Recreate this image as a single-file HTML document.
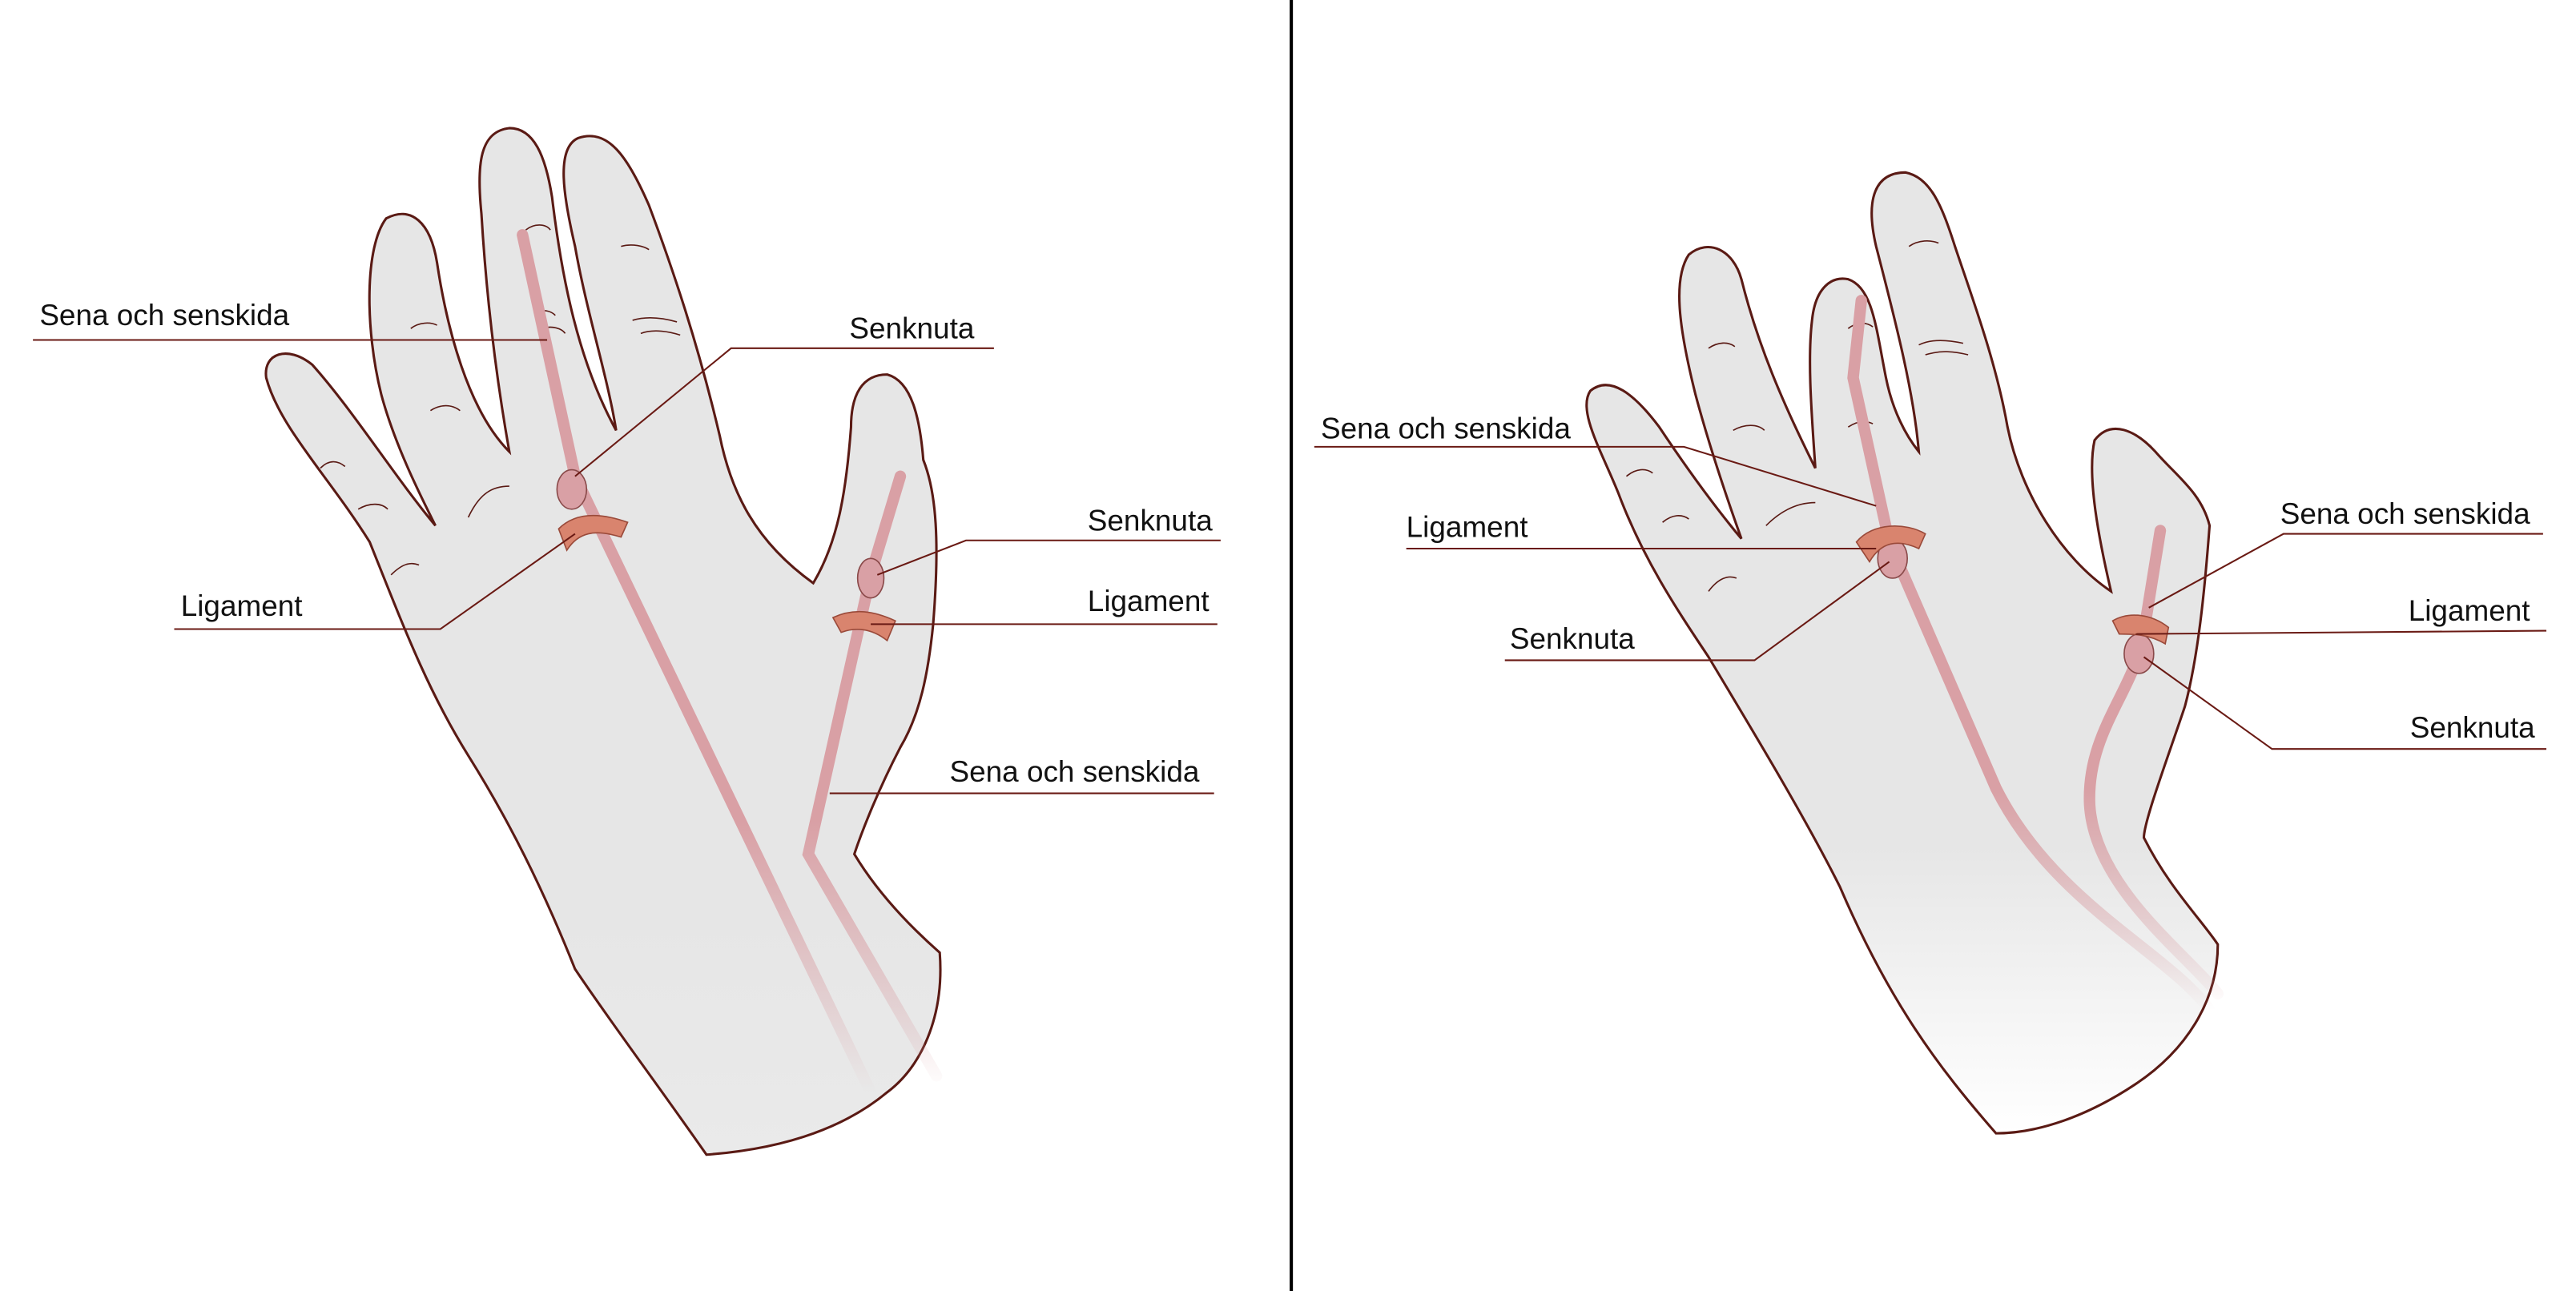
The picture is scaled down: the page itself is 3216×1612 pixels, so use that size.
<!DOCTYPE html>
<html><head><meta charset="utf-8"><style>
html,body{margin:0;padding:0;background:#fff}
svg{display:block}
text{font-family:"Liberation Sans",sans-serif;font-size:18px;fill:#111}
</style></head><body>
<svg width="3216" height="1612" viewBox="0 0 1568 786" xmlns="http://www.w3.org/2000/svg">
<defs>
<linearGradient id="fadeL" x1="0" y1="0" x2="0" y2="1">
<stop offset="0.75" stop-color="#e6e6e6"/><stop offset="1" stop-color="#e6e6e6" stop-opacity="0.85"/></linearGradient>
<linearGradient id="fadeR" x1="0" y1="0" x2="0" y2="1">
<stop offset="0.7" stop-color="#e6e6e6"/><stop offset="1" stop-color="#ffffff"/></linearGradient>
<linearGradient id="tL" gradientUnits="userSpaceOnUse" x1="0" y1="500" x2="0" y2="665">
<stop offset="0" stop-color="#d9a0a5"/><stop offset="1" stop-color="#d9a0a5" stop-opacity="0"/></linearGradient>
<linearGradient id="tR" gradientUnits="userSpaceOnUse" x1="0" y1="480" x2="0" y2="615">
<stop offset="0" stop-color="#d9a0a5"/><stop offset="1" stop-color="#d9a0a5" stop-opacity="0"/></linearGradient>
</defs>
<rect width="1568" height="786" fill="#fff"/>
<line x1="786" y1="0" x2="786" y2="786" stroke="#000" stroke-width="2"/>

<!-- LEFT HAND -->
<path d="M430,703 C400,660 370,620 350,590 C330,540 310,500 285,460 C260,420 245,380 225,330 C200,290 170,260 162,230 C160,215 175,210 190,222 C215,250 240,290 265,320 C255,300 240,270 232,240 C222,200 222,150 235,133 C250,125 262,135 266,160 C272,200 285,250 310,275 C302,230 296,180 293,130 C290,100 292,80 310,78 C325,78 332,95 336,120 C342,170 352,220 375,262 C370,230 357,190 350,150 C343,120 338,90 352,84 C370,78 382,95 395,125 C410,165 425,210 438,265 C445,300 460,330 495,355 C510,330 515,300 518,260 C518,240 525,228 540,228 C555,232 560,255 562,280 C570,300 572,330 568,380 C565,410 560,435 548,455 C535,480 525,505 520,520 C535,545 555,565 572,580 C575,620 560,650 540,665 C510,690 470,700 430,703 Z" fill="url(#fadeL)" stroke="#5a1a14" stroke-width="1.5"/>
<g fill="none" stroke="#5a1a14" stroke-width="0.8">
<path d="M320,140 C325,136 332,136 335,140"/><path d="M327,190 C332,188 336,190 338,192"/><path d="M330,200 C336,198 342,200 344,203"/>
<path d="M378,150 C385,148 392,150 395,152"/><path d="M385,195 C395,192 405,194 412,196"/><path d="M390,203 C398,200 408,202 414,204"/>
<path d="M250,200 C255,196 262,196 266,198"/><path d="M262,250 C268,246 275,246 280,250"/>
<path d="M195,285 C200,280 205,280 210,284"/><path d="M218,310 C225,306 232,306 236,310"/>
<path d="M285,315 C292,300 300,296 310,296"/><path d="M238,350 C245,343 250,342 255,344"/>
</g>
<path d="M318,143 L350,290 L530,665" fill="none" stroke="url(#tL)" stroke-width="7" stroke-linecap="round"/>
<ellipse cx="348" cy="298" rx="9" ry="12" fill="#d9a0a5" stroke="#8a4a4a" stroke-width="0.8"/>
<path d="M340,322 C350,312 365,312 382,318 L378,327 C362,322 352,324 345,335 Z" fill="#d9846e" stroke="#9a4a3a" stroke-width="0.8"/>
<path d="M548,290 L530,350 L492,520 L570,655" fill="none" stroke="url(#tL)" stroke-width="7" stroke-linecap="round"/>
<ellipse cx="530" cy="352" rx="8" ry="12" fill="#d9a0a5" stroke="#8a4a4a" stroke-width="0.8"/>
<path d="M507,376 C520,370 532,372 545,378 L540,390 C530,382 520,382 512,385 Z" fill="#d9846e" stroke="#9a4a3a" stroke-width="0.8"/>
<g stroke="#6a1a14" stroke-width="1" fill="none">
<polyline points="20,207 333,207"/>
<polyline points="605,212 445,212 350,290"/>
<polyline points="106,383 268,383 350,325"/>
<polyline points="743,329 588,329 534,350"/>
<polyline points="741,380 530,380"/>
<polyline points="739,483 505,483"/>
</g>
<text x="24" y="198">Sena och senskida</text>
<text x="517" y="206">Senknuta</text>
<text x="110" y="375">Ligament</text>
<text x="662" y="323">Senknuta</text>
<text x="662" y="372">Ligament</text>
<text x="578" y="476">Sena och senskida</text>

<!-- RIGHT HAND -->
<path d="M1215,690 C1180,650 1150,610 1120,540 C1100,500 1070,450 1040,400 C1020,370 1000,340 985,300 C975,275 960,250 968,238 C980,228 995,240 1010,260 C1030,290 1045,310 1060,328 C1050,300 1040,270 1032,240 C1022,200 1018,170 1028,155 C1040,145 1055,152 1060,170 C1070,210 1085,245 1105,285 C1103,255 1100,220 1103,195 C1105,175 1115,168 1125,170 C1140,175 1142,200 1148,230 C1152,250 1160,265 1168,275 C1165,240 1155,200 1142,150 C1135,120 1142,105 1160,105 C1175,108 1182,125 1190,150 C1200,180 1215,220 1222,260 C1230,300 1255,340 1285,360 C1278,330 1270,290 1275,268 C1285,255 1300,262 1312,275 C1325,290 1340,300 1345,320 C1342,360 1338,400 1330,430 C1320,460 1305,500 1305,510 C1320,540 1340,560 1350,575 C1350,610 1330,640 1300,660 C1270,680 1240,690 1215,690 Z" fill="url(#fadeR)" stroke="#5a1a14" stroke-width="1.5"/>
<g fill="none" stroke="#5a1a14" stroke-width="0.8">
<path d="M1040,212 C1046,208 1052,208 1056,211"/><path d="M1055,262 C1062,258 1070,258 1074,262"/>
<path d="M1125,200 C1130,196 1136,196 1140,199"/><path d="M1125,260 C1131,256 1136,256 1140,258"/>
<path d="M1168,210 C1176,206 1186,207 1195,209"/><path d="M1172,216 C1182,213 1190,214 1198,216"/><path d="M1162,150 C1168,146 1175,146 1180,148"/>
<path d="M990,290 C996,285 1002,285 1006,288"/><path d="M1012,318 C1018,313 1024,313 1028,316"/>
<path d="M1075,320 C1085,310 1095,306 1105,306"/><path d="M1040,360 C1046,352 1052,350 1057,352"/>
</g>
<path d="M1133,183 L1128,230 L1150,330 L1215,480 C1250,550 1320,580 1345,615" fill="none" stroke="url(#tR)" stroke-width="7" stroke-linecap="round"/>
<ellipse cx="1152" cy="340" rx="9" ry="12" fill="#d9a0a5" stroke="#8a4a4a" stroke-width="0.8"/>
<path d="M1130,330 C1140,318 1160,318 1172,325 L1168,334 C1155,328 1145,330 1138,342 Z" fill="#d9846e" stroke="#9a4a3a" stroke-width="0.8"/>
<path d="M1315,323 L1305,385 C1300,420 1270,445 1272,490 C1275,540 1330,580 1350,605" fill="none" stroke="url(#tR)" stroke-width="7" stroke-linecap="round"/>
<ellipse cx="1302" cy="398" rx="9" ry="12" fill="#d9a0a5" stroke="#8a4a4a" stroke-width="0.8"/>
<path d="M1286,378 C1296,372 1310,374 1320,382 L1318,392 C1308,386 1298,386 1290,386 Z" fill="#d9846e" stroke="#9a4a3a" stroke-width="0.8"/>
<g stroke="#6a1a14" stroke-width="1" fill="none">
<polyline points="800,272 1025,272 1142,308"/>
<polyline points="856,334 1142,334"/>
<polyline points="916,402 1068,402 1150,342"/>
<polyline points="1548,325 1390,325 1308,370"/>
<polyline points="1550,384 1300,386"/>
<polyline points="1550,456 1383,456 1305,400"/>
</g>
<text x="804" y="267">Sena och senskida</text>
<text x="856" y="327">Ligament</text>
<text x="919" y="395">Senknuta</text>
<text x="1388" y="319">Sena och senskida</text>
<text x="1466" y="378">Ligament</text>
<text x="1467" y="449">Senknuta</text>
</svg>
</body></html>
